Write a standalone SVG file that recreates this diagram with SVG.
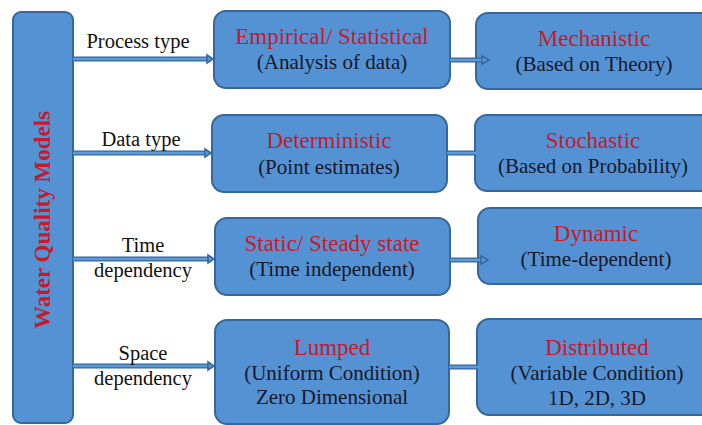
<svg xmlns="http://www.w3.org/2000/svg" width="702" height="425" viewBox="0 0 702 425">
<defs>
<style>
.box{fill:#5592d3;stroke:#36679c;stroke-width:2}
.t{font-family:"Liberation Serif","Times New Roman",serif;text-anchor:middle}
.red{fill:#c8192b;font-size:23px}
.sub{fill:#16182a;font-size:21px}
.lbl{fill:#111;font-size:20.5px}
.vt{fill:#c8192b;font-size:23px;font-weight:bold}
.lo{stroke:#36679c;stroke-width:5;fill:none}
.li{stroke:#5b9bd8;stroke-width:2.4;fill:none}
.ah{stroke:#36679c;stroke-width:1.6;fill:#5b9bd8}
</style>
</defs>
<rect width="702" height="425" fill="#ffffff"/>
<g id="water-quality-models">
<rect class="box" x="13" y="12" width="60" height="411" rx="8"/>
<text class="t vt" transform="translate(50,220) rotate(-90)">Water Quality Models</text>
</g>
<g id="empirical">
<rect class="box" x="214" y="11" width="236" height="77" rx="12"/>
<text class="t red" x="332" y="44">Empirical/ Statistical</text>
<text class="t sub" x="332" y="69">(Analysis of data)</text>
</g>
<g id="mechanistic">
<rect class="box" x="476" y="13" width="240" height="76" rx="12"/>
<text class="t red" x="594" y="46">Mechanistic</text>
<text class="t sub" x="594" y="71">(Based on Theory)</text>
</g>
<g id="deterministic">
<rect class="box" x="212" y="115" width="235" height="77" rx="12"/>
<text class="t red" x="329" y="148">Deterministic</text>
<text class="t sub" x="329" y="174">(Point estimates)</text>
</g>
<g id="stochastic">
<rect class="box" x="475" y="115" width="240" height="76" rx="12"/>
<text class="t red" x="593" y="148">Stochastic</text>
<text class="t sub" x="593" y="173">(Based on Probability)</text>
</g>
<g id="static">
<rect class="box" x="215" y="218" width="235" height="77" rx="12"/>
<text class="t red" x="332" y="251">Static/ Steady state</text>
<text class="t sub" x="332" y="276">(Time independent)</text>
</g>
<g id="dynamic">
<rect class="box" x="478" y="208" width="240" height="76" rx="12"/>
<text class="t red" x="596" y="241">Dynamic</text>
<text class="t sub" x="596" y="266">(Time-dependent)</text>
</g>
<g id="lumped">
<rect class="box" x="215" y="320" width="234" height="104" rx="12"/>
<text class="t red" x="332" y="355">Lumped</text>
<text class="t sub" x="332" y="380">(Uniform Condition)</text>
<text class="t sub" x="332" y="404">Zero Dimensional</text>
</g>
<g id="distributed">
<rect class="box" x="477" y="319" width="240" height="96" rx="12"/>
<text class="t red" x="597" y="355">Distributed</text>
<text class="t sub" x="597" y="380">(Variable Condition)</text>
<text class="t sub" x="597" y="405">1D, 2D, 3D</text>
</g>
<g id="connectors">
<line class="lo" x1="73" y1="59" x2="210" y2="59"/><line class="li" x1="73" y1="59" x2="210" y2="59"/><path class="ah" d="M207,55 L213,59 L207,63 Z"/>
<line class="lo" x1="73" y1="153" x2="208" y2="153"/><line class="li" x1="73" y1="153" x2="208" y2="153"/><path class="ah" d="M205,149 L211,153 L205,157 Z"/>
<line class="lo" x1="73" y1="259" x2="211" y2="259"/><line class="li" x1="73" y1="259" x2="211" y2="259"/><path class="ah" d="M208,255 L214,259 L208,263 Z"/>
<line class="lo" x1="73" y1="366" x2="211" y2="366"/><line class="li" x1="73" y1="366" x2="211" y2="366"/><path class="ah" d="M208,362 L214,366 L208,370 Z"/>
<line class="lo" x1="451" y1="60" x2="484" y2="60"/><line class="li" x1="450" y1="60" x2="484" y2="60"/><path class="ah" d="M482,56 L489,60 L482,64 Z"/>
<line class="lo" x1="448" y1="153" x2="476" y2="153"/><line class="li" x1="447" y1="153" x2="477" y2="153"/>
<line class="lo" x1="451" y1="260" x2="483" y2="260"/><line class="li" x1="450" y1="260" x2="483" y2="260"/><path class="ah" d="M481,256 L488,260 L481,264 Z"/>
<line class="lo" x1="450" y1="367" x2="478" y2="367"/><line class="li" x1="449" y1="367" x2="479" y2="367"/>
<text class="t lbl" x="138" y="48">Process type</text>
<text class="t lbl" x="141" y="146">Data type</text>
<text class="t lbl" x="143" y="252">Time</text>
<text class="t lbl" x="143" y="277">dependency</text>
<text class="t lbl" x="143" y="360">Space</text>
<text class="t lbl" x="143" y="385">dependency</text>
</g>
</svg>
